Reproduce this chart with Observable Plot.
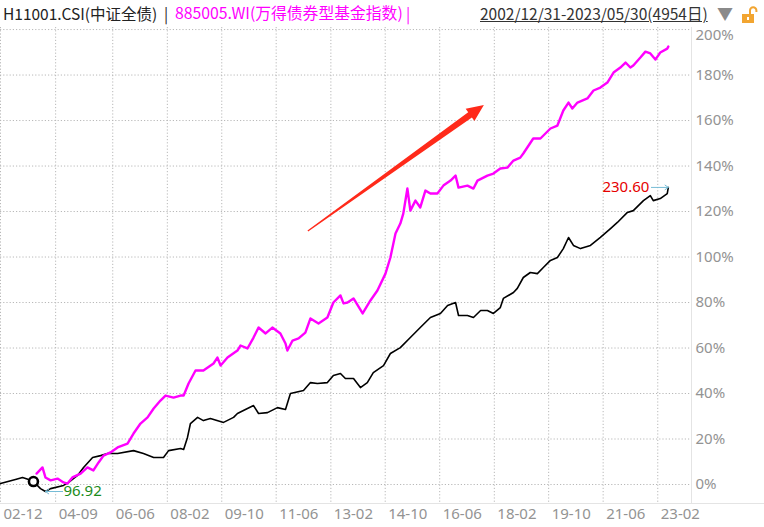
<!DOCTYPE html>
<html><head><meta charset="utf-8">
<script src="https://cdn.jsdelivr.net/npm/d3@7"></script>
<script src="https://cdn.jsdelivr.net/npm/@observablehq/plot@0.6"></script>
<style>
html,body{margin:0;padding:0;background:#fff;}
body{width:764px;height:527px;overflow:hidden;font-family:"Noto Sans CJK SC","Noto Sans",sans-serif;}
#hdr{position:relative;height:27px;font-size:15.5px;white-space:nowrap;}
#hdr span.a{position:absolute;top:3px;line-height:20px;}
#chart svg{display:block;}
</style></head><body>
<div id="hdr">
  <span class="a" style="left:3px;color:#222">H11001.CSI(中证全债)</span>
  <span class="a" style="left:164px;color:#222">|</span>
  <span class="a" style="left:175px;color:#ff00ff;font-size:15.8px">885005.WI(万得债券型基金指数)</span>
  <span class="a" style="left:406px;color:#ff00ff">|</span>
  <span class="a" style="left:480px;color:#333;text-decoration:underline;">2002/12/31-2023/05/30(4954日)</span>
  <span class="a" style="left:717px;color:#8a8a8a;font-size:16px;">▼</span>
  <svg style="position:absolute;left:741px;top:5px" width="18" height="20" viewBox="0 0 18 20">
    <path d="M9 9 V5.5 a3.2 3.2 0 0 1 6.4 0 V7" fill="none" stroke="#f2a531" stroke-width="2"/>
    <rect x="1" y="9" width="12" height="9" fill="#f2a531"/>
    <rect x="6" y="12" width="2" height="3" fill="#fff"/>
  </svg>
</div>
<div id="chart"></div>
<script>
// ---- data ----
const tickDates = ["2002-12-25","2004-09-01","2006-06-01","2008-02-01","2009-10-01","2011-06-01","2013-02-01","2014-10-01","2016-06-01","2018-02-01","2019-10-01","2021-06-01","2023-02-01"];
const tickLabels = ["02-12","04-09","06-06","08-02","09-10","11-06","13-02","14-10","16-06","18-02","19-10","21-06","23-02"];
const yTicks = [0,20,40,60,80,100,120,140,160,180,200];

const blackDates = ["2002-12-25","2003-06-10","2003-08-28","2003-11-04","2003-12-28","2004-03-16","2004-05-10","2004-07-07","2004-11-28","2005-01-24","2005-05-04","2005-07-10","2005-10-19","2006-01-16","2006-04-04","2006-07-25","2007-01-19","2007-05-10","2007-09-01","2007-12-20","2008-02-15","2008-06-28","2008-08-01","2008-09-13","2008-10-16","2009-01-04","2009-03-10","2009-05-27","2009-10-21","2010-02-10","2010-03-25","2010-07-15","2010-09-21","2010-11-16","2011-02-24","2011-06-15","2011-09-13","2011-11-07","2012-04-01","2012-06-18","2012-09-04","2012-12-24","2013-03-01","2013-05-19","2013-07-13","2013-10-12","2013-12-28","2014-03-15","2014-05-21","2014-09-12","2014-11-28","2015-03-19","2015-07-09","2015-10-28","2016-02-18","2016-06-09","2016-08-28","2016-11-25","2016-12-28","2017-04-07","2017-06-13","2017-09-01","2017-11-16","2018-01-22","2018-04-09","2018-05-13","2018-09-03","2018-10-16","2018-12-22","2019-03-10","2019-05-28","2019-08-03","2019-10-21","2020-01-07","2020-03-13","2020-05-10","2020-07-04","2020-09-21","2021-01-10","2021-05-01","2021-08-22","2021-11-07","2022-02-27","2022-05-04","2022-08-25","2022-11-10","2022-12-13","2023-03-01","2023-05-18","2023-05-30"];
const blackValues = [0.4,2.2,3.1,2.2,1.3,-1.8,-3.08,-1.8,-0.4,0.9,4.0,7.5,11.9,12.7,13.6,13.6,14.9,13.6,11.9,11.9,14.9,15.8,15.4,20.7,26.8,29.5,28.1,29.0,27.3,29.5,31.2,33.4,34.7,31.2,31.6,33.8,33.0,40.0,41.3,44.8,44.4,44.8,47.9,48.8,46.6,46.6,42.6,44.8,49.2,52.3,57.6,60.2,64.6,69.0,73.4,75.2,78.7,80.0,74.3,74.3,73.4,76.5,76.5,75.2,77.8,81.8,84.4,86.2,91.0,93.2,92.7,95.4,98.5,99.8,103.7,108.6,105.1,103.7,105.1,108.6,112.5,115.2,119.6,120.4,124.8,127.0,124.8,125.7,127.9,130.6];

const magentaDates = ["2004-02-01","2004-04-07","2004-05-10","2004-07-07","2004-09-22","2004-11-28","2005-01-12","2005-03-07","2005-06-07","2005-08-22","2005-10-28","2005-12-25","2006-02-18","2006-05-07","2006-07-25","2006-11-13","2007-01-19","2007-04-07","2007-06-25","2007-09-01","2007-11-16","2008-01-12","2008-04-10","2008-06-28","2008-08-01","2008-09-25","2008-12-12","2009-03-10","2009-07-01","2009-08-13","2009-09-18","2009-12-04","2010-03-25","2010-04-28","2010-07-15","2010-09-21","2010-11-16","2011-02-03","2011-04-19","2011-07-18","2011-09-13","2011-10-04","2011-12-01","2012-02-06","2012-04-22","2012-06-18","2012-09-16","2012-12-24","2013-03-01","2013-05-19","2013-06-22","2013-08-06","2013-10-12","2014-01-22","2014-04-19","2014-07-06","2014-10-04","2014-11-28","2015-01-24","2015-03-19","2015-04-21","2015-06-06","2015-07-09","2015-09-04","2015-10-28","2015-12-24","2016-02-18","2016-05-06","2016-07-12","2016-09-30","2016-11-25","2016-12-28","2017-04-07","2017-06-13","2017-07-28","2017-11-16","2018-01-22","2018-04-09","2018-06-27","2018-09-03","2018-11-18","2018-12-22","2019-04-12","2019-07-01","2019-10-21","2020-01-07","2020-03-13","2020-05-10","2020-06-22","2020-08-18","2020-12-07","2021-02-13","2021-05-01","2021-07-18","2021-09-25","2021-12-10","2022-02-06","2022-04-01","2022-05-04","2022-07-22","2022-09-16","2022-11-10","2023-01-06","2023-03-01","2023-05-18","2023-05-30"];
const magentaValues = [4.8,7.5,3.1,1.8,2.6,0.9,0.4,3.1,4.8,7.5,6.2,9.7,12.7,14.1,16.3,18.0,22.4,26.8,29.5,33.4,36.9,39.1,38.2,39.1,39.1,44.4,50.1,50.1,53.2,55.8,52.3,55.8,58.9,61.1,59.8,64.6,69.0,66.4,69.0,66.4,62.0,58.9,63.3,64.2,66.8,73.0,70.8,73.4,80.0,83.1,79.6,80.0,81.8,75.2,80.9,85.3,92.7,99.8,110.3,114.7,119.1,130.1,120.4,124.8,121.8,129.2,127.9,127.9,131.4,133.6,135.8,130.5,131.4,130.1,133.6,135.8,136.7,138.9,139.3,142.4,143.7,145.5,152.1,152.1,156.5,157.8,164.4,167.9,165.3,167.9,169.7,173.2,174.5,176.7,181.1,183.3,185.5,183.3,184.2,187.7,190.3,189.5,186.8,189.9,191.6,192.5];

// annotations (data units)
const startMark = {date: "2003-12-28", value: 1.3};
const minLabel = {text: "96.92", date: "2004-05-10", value: -3.08, arrowFrom: "2004-11-18"};
const endLabel = {text: "230.60", date: "2023-05-30", value: 130.6, arrowFrom: "2022-11-22"};
const trendArrow = {from: {date: "2012-05-25", value: 111.2}, to: {date: "2017-10-13", value: 166.6}};
const xDomain = ["2002-12-25", "2024-02-13"];
const yDomain = [-8.35, 200.9];

// ---- build ----
const D = s => new Date(s);
const black = blackDates.map((d, i) => ({date: D(d), value: blackValues[i]}));
const magenta = magentaDates.map((d, i) => ({date: D(d), value: magentaValues[i]}));
const tickLabelByTime = new Map(tickDates.map((d, i) => [+D(d), tickLabels[i]]));
const grid = {stroke: "#b8b8b8", strokeOpacity: 1, strokeDasharray: "1.2,2"};
const gray = "#939393";

const chart = Plot.plot({
  width: 764, height: 500,
  marginLeft: 0, marginRight: 73, marginTop: 0, marginBottom: 24,
  x: {type: "utc", domain: xDomain.map(D), label: null},
  y: {domain: yDomain, label: null},
  style: {fontFamily: '"Noto Sans", "Noto Sans CJK SC", sans-serif', fontSize: "15px", background: "#fff", overflow: "visible"},
  marks: [
    Plot.gridY(yTicks, grid),
    Plot.gridX(tickDates.map(D), grid),
    Plot.ruleX([D(xDomain[1])], {stroke: "#e4e4e4"}),
    Plot.ruleY([yDomain[0]], {stroke: "#e4e4e4", insetRight: -73}),
    Plot.axisY(yTicks.filter(v => v < 200), {anchor: "right", label: null, tickSize: 0, tickPadding: 4, fill: gray, tickFormat: d => d + "%"}),
    Plot.axisY([200], {anchor: "right", label: null, tickSize: 0, tickPadding: 4, dy: 6, fill: gray, tickFormat: d => d + "%"}),
    Plot.axisX(tickDates.map(D), {label: null, tickSize: 0, tickPadding: 5, textAnchor: "start", dx: 3, fill: gray, tickFormat: d => tickLabelByTime.get(+d)}),
    Plot.line(black, {x: "date", y: "value", stroke: "#000", strokeWidth: 1.6}),
    Plot.line(magenta, {x: "date", y: "value", stroke: "#ff00ff", strokeWidth: 2.4}),
    Plot.dot([startMark], {x: d => D(d.date), y: "value", r: 4.5, stroke: "#000", strokeWidth: 2.6, fill: "#fff"}),
    Plot.arrow([minLabel], {x1: d => D(d.arrowFrom), x2: d => D(d.date), y1: "value", y2: "value", stroke: "#76bcd6", strokeWidth: 1, headLength: 6, headAngle: 70}),
    Plot.text([minLabel], {x: d => D(d.date), y: "value", text: "text", dx: 18, textAnchor: "start", fill: "#1b8c1b", fontSize: 15}),
    Plot.arrow([endLabel], {x1: d => D(d.arrowFrom), x2: d => D(d.date), y1: "value", y2: "value", stroke: "#76bcd6", strokeWidth: 1, headLength: 6, headAngle: 70}),
    Plot.text([endLabel], {x: d => D(d.date), y: "value", text: "text", dx: -19, textAnchor: "end", fill: "#e60000", fontSize: 15})
  ]
});
document.getElementById("chart").appendChild(chart);

// tapered red trend arrow, positioned through the plot's scales
const sx = chart.scale("x"), sy = chart.scale("y");
const p0 = [sx.apply(D(trendArrow.from.date)), sy.apply(trendArrow.from.value)];
const p1 = [sx.apply(D(trendArrow.to.date)), sy.apply(trendArrow.to.value)];
const dxv = p1[0] - p0[0], dyv = p1[1] - p0[1], L = Math.hypot(dxv, dyv);
const u = [dxv / L, dyv / L], n = [-u[1], u[0]];
const headLen = 17, headHalf = 7.5, shaftEnd = 3.2, tailHalf = 0.6;
const base = [p1[0] - u[0] * headLen, p1[1] - u[1] * headLen];
const pt = (p, k) => [p[0] + n[0] * k, p[1] + n[1] * k];
const poly = [pt(p0, tailHalf), pt(base, shaftEnd), pt(base, headHalf), p1, pt(base, -headHalf), pt(base, -shaftEnd), pt(p0, -tailHalf)];
d3.select(chart).append("path")
  .attr("d", "M" + poly.map(p => p.join(",")).join("L") + "Z")
  .attr("fill", "#ff2a1a");
</script>
</body></html>
